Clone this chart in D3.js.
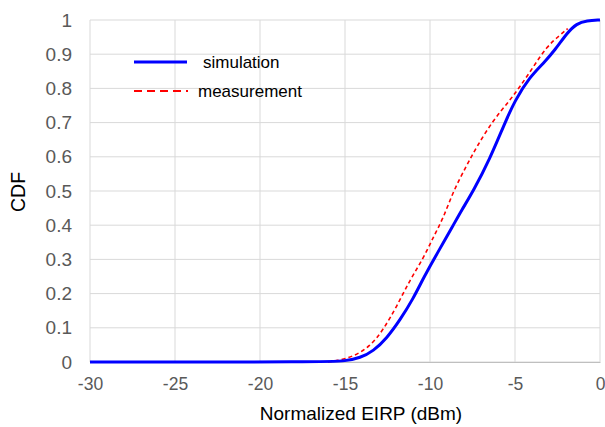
<!DOCTYPE html>
<html><head><meta charset="utf-8">
<script src="https://cdn.jsdelivr.net/npm/d3@7"></script>
<style>body{margin:0;background:#fff;} svg{display:block;font-family:"Liberation Sans",Arial,sans-serif;}</style>
</head><body><svg id="c" width="605" height="427"></svg>
<script>
const xTicks = [-30,-25,-20,-15,-10,-5,0];
const yTicks = [0,0.1,0.2,0.3,0.4,0.5,0.6,0.7,0.8,0.9,1];
const simX = [-30,-16,-15,-14.1,-13.33,-12.55,-11.76,-10.98,-10.39,-9.8,-9.02,-8.63,-8.14,-7.45,-6.47,-5.69,-5,-4.12,-3.33,-2.65,-1.96,-1.37,-0.78,0];
const simY = [0,0,0.003,0.012,0.032,0.069,0.123,0.186,0.245,0.298,0.366,0.40,0.444,0.50,0.595,0.688,0.766,0.834,0.873,0.912,0.961,0.99,0.998,1];
const meaX = [-16,-15.5,-14.5,-13.53,-12.75,-11.96,-11.18,-10.39,-9.8,-9.22,-8.63,-7.84,-7.25,-6.27,-5.29,-4.71,-3.92,-3.14,-2.35,-1.9];
const meaY = [0,0.003,0.016,0.045,0.094,0.162,0.24,0.303,0.366,0.42,0.5,0.575,0.63,0.708,0.766,0.805,0.863,0.922,0.956,0.975];
const seriesNames = ["simulation","measurement"];

const svg = d3.select("#c");
const m = {l:90, r:5, t:20, b:65};
const W = 605, H = 427;
const x = d3.scaleLinear().domain([-30,0]).range([m.l, W-m.r]);
const y = d3.scaleLinear().domain([0,1]).range([H-m.b, m.t]);

// grid
svg.append("g").selectAll("line").data(xTicks).join("line")
  .attr("x1",d=>x(d)).attr("x2",d=>x(d)).attr("y1",y(0)).attr("y2",y(1))
  .attr("stroke","#d9d9d9").attr("stroke-width",1);
svg.append("g").selectAll("line").data(yTicks).join("line")
  .attr("x1",x(-30)).attr("x2",x(0)).attr("y1",d=>y(d)).attr("y2",d=>y(d))
  .attr("stroke","#d9d9d9").attr("stroke-width",1);

// axes
const xAxis = svg.append("g").attr("transform",`translate(0,${y(0)})`)
  .call(d3.axisBottom(x).tickValues(xTicks).tickSize(0).tickPadding(0).tickFormat(d=>String(d)));
xAxis.select(".domain").attr("stroke","#bfbfbf");
xAxis.selectAll("text").attr("y",28).attr("dy",0).attr("font-size",17.5).attr("fill","#595959")
  .attr("font-family","Liberation Sans, Arial, sans-serif");
const yAxis = svg.append("g").attr("transform",`translate(${x(-30)},0)`)
  .call(d3.axisLeft(y).tickValues(yTicks).tickSize(0).tickPadding(18).tickFormat(d=>d===0?"0":d===1?"1":d3.format(".1f")(d)));
yAxis.select(".domain").remove();
yAxis.selectAll("text").attr("font-size",19).attr("fill","#595959")
  .attr("font-family","Liberation Sans, Arial, sans-serif");

// titles
svg.append("text").attr("x",361).attr("y",420).attr("text-anchor","middle")
  .attr("font-size",19).attr("fill","#000").text("Normalized EIRP (dBm)");
svg.append("text").attr("transform",`translate(25,192) rotate(-90)`).attr("text-anchor","middle")
  .attr("font-size",19.5).attr("fill","#000").text("CDF");

// lines
const line = d3.line().x(d=>x(d[0])).y(d=>y(d[1])).curve(d3.curveBasis);
const mea = meaX.map((v,i)=>[v,meaY[i]]);
const sim = simX.map((v,i)=>[v,simY[i]]);
svg.append("path").attr("d",line(mea)).attr("fill","none").attr("stroke","#ff0000")
  .attr("stroke-width",1.6).attr("stroke-dasharray","4,3");
svg.append("path").attr("d",line(sim)).attr("fill","none").attr("stroke","#0000ff")
  .attr("stroke-width",3);

// legend
svg.append("line").attr("x1",134).attr("x2",187).attr("y1",62).attr("y2",62)
  .attr("stroke","#0000ff").attr("stroke-width",3);
svg.append("text").attr("x",203).attr("y",68).attr("font-size",17).attr("fill","#000").text(seriesNames[0]);
svg.append("line").attr("x1",134).attr("x2",188).attr("y1",91).attr("y2",91)
  .attr("stroke","#ff0000").attr("stroke-width",2).attr("stroke-dasharray","8,5");
svg.append("text").attr("x",198).attr("y",97).attr("font-size",17).attr("fill","#000").text(seriesNames[1]);
</script></body></html>
